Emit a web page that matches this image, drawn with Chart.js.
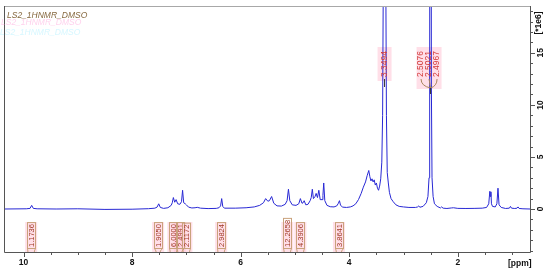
<!DOCTYPE html>
<html>
<head>
<meta charset="utf-8">
<script src="https://cdn.jsdelivr.net/npm/chart.js@4"></script>
<style>
    body { margin: 0; background: #fff; }
    canvas { display: block; }
</style>
</head>
<body>
<canvas id="nmr" width="550" height="273"></canvas>
<script>
// 스펙트럼 데이터: 화학적 이동(ppm)과 세기(*1e6)
const shiftPpm = [
    10.36, 9.95, 9.88, 9.85, 9.82, 9.75, 9.4, 9.0, 8.5, 8.0,
    7.7, 7.58, 7.54, 7.51, 7.48, 7.42, 7.34, 7.28, 7.26, 7.24,
    7.215, 7.19, 7.16, 7.12, 7.09, 7.07, 7.05, 7.02, 7.00, 6.96,
    6.90, 6.84, 6.80, 6.74, 6.6, 6.45, 6.40, 6.37, 6.35, 6.33,
    6.30, 6.1, 5.9, 5.75, 5.65, 5.58, 5.54, 5.50, 5.47, 5.43,
    5.39, 5.33, 5.25, 5.18, 5.145, 5.12, 5.095, 5.05, 4.98, 4.93,
    4.90, 4.87, 4.85, 4.83, 4.80, 4.76, 4.72, 4.70, 4.68, 4.66,
    4.63, 4.61, 4.585, 4.56, 4.535, 4.50, 4.485, 4.47, 4.45, 4.41,
    4.35, 4.28, 4.23, 4.20, 4.18, 4.16, 4.12, 4.05, 3.98, 3.93,
    3.88, 3.83, 3.78, 3.74, 3.70, 3.67, 3.64, 3.62, 3.60, 3.58,
    3.56, 3.54, 3.52, 3.50, 3.48, 3.46, 3.44, 3.42, 3.40, 3.385,
    3.365, 3.355, 3.349, 3.343, 3.333, 3.315, 3.30, 3.28, 3.26, 3.23,
    3.19, 3.14, 3.08, 3.0, 2.9, 2.78, 2.74, 2.72, 2.70, 2.64,
    2.58, 2.55, 2.53, 2.518, 2.508, 2.502, 2.497, 2.487, 2.475, 2.455,
    2.43, 2.38, 2.32, 2.30, 2.27, 2.2, 2.12, 2.08, 2.0, 1.85,
    1.7, 1.55, 1.47, 1.43, 1.41, 1.40, 1.39, 1.38, 1.36, 1.31,
    1.28, 1.26, 1.24, 1.20, 1.12, 1.05, 1.03, 1.01, 0.95, 0.91,
    0.89, 0.87, 0.80, 0.67
];
const intensity = [
    0, 0.02, 0.06, 0.35, 0.06, 0.02, 0, 0.02, -0.04, -0.02,
    0.03, 0.08, 0.18, 0.5, 0.15, 0.06, 0.12, 0.35, 0.6, 1.1,
    0.65, 0.9, 0.5, 0.45, 0.7, 1.8, 0.6, 0.5, 0.4, 0.18,
    0.1, 0.12, 0.16, 0.08, 0.04, 0.06, 0.12, 0.3, 1.0, 0.25,
    0.08, 0.08, 0.12, 0.2, 0.35, 0.6, 1.0, 0.75, 0.8, 1.2,
    0.55, 0.3, 0.28, 0.45, 0.8, 1.9, 0.8, 0.4, 0.35, 0.5,
    1.0, 0.55, 0.6, 0.8, 0.4, 0.45, 0.8, 1.1, 1.9, 1.0,
    1.2, 1.5, 1.1, 1.8, 0.9, 0.9, 1.3, 2.5, 0.8, 0.35,
    0.22, 0.2, 0.3, 0.55, 0.8, 0.35, 0.18, 0.15, 0.2, 0.3,
    0.5, 0.9, 1.5, 2.1, 2.6, 3.2, 3.7, 3.1, 2.7, 2.9,
    2.6, 2.8, 2.3, 2.5, 2.0, 1.8, 2.2, 2.9, 4.5, 9,
    30, 70, 75, 70, 30, 9, 3.5, 2.5, 1.6, 1.0,
    0.7, 0.4, 0.25, 0.2, 0.15, 0.15, 0.2, 0.3, 0.17, 0.25,
    0.6, 1.2, 3, 12, 90, 80, 90, 12, 3, 1.2,
    0.5, 0.25, 0.1, 0.2, 0.08, 0.05, 0.1, 0.12, 0.06, 0.05,
    0.06, 0.08, 0.15, 0.5, 1.7, 1.2, 1.65, 0.5, 0.25, 0.2,
    0.5, 2.0, 0.4, 0.15, 0.05, 0.08, 0.25, 0.08, 0.05, 0.08,
    0.2, 0.05, 0.02, 0
];

// 축 눈금
const xTickLabels = [10, 8, 6, 4, 2];
const yTickLabels = [0, 5, 10, 15];

// 적분값과 적분 구간(ppm)
const integralValues = ['1.1736', '1.9050', '6.0000', '2.4991', '2.1172', '2.9824', '12.2658', '4.3906', '3.8641'];
const integralFrom = [9.92, 7.56, 7.30, 7.16, 7.06, 6.42, 5.20, 4.96, 4.24];
const integralTo = [9.80, 7.48, 7.18, 7.08, 6.94, 6.30, 5.08, 4.84, 4.14];

// 피크 라벨
const peakGroupA = ['3.3494'];
const peakGroupB = ['2.5076', '2.5021', '2.4967'];

const TITLE = 'LS2_1HNMR_DMSO';

function drawRotated(ctx, text, x, y, align) {
    ctx.save();
    ctx.translate(x, y);
    ctx.rotate(-Math.PI / 2);
    ctx.textAlign = align;
    ctx.textBaseline = 'middle';
    ctx.fillText(text, 0, 0);
    ctx.restore();
}

const PINK = 'rgba(255, 196, 214, 0.55)';

const nmrDecor = {
    id: 'nmrDecor',
    beforeDatasetsDraw(chart) {
        const ctx = chart.ctx;
        const xs = chart.scales.x;
        const area = chart.chartArea;
        ctx.save();
        ctx.fillStyle = PINK;
        // 적분 라벨 배경
        integralValues.forEach((v, i) => {
            const a = xs.getPixelForValue(integralFrom[i]);
            const b = xs.getPixelForValue(integralTo[i]);
            const mid = (a + b) / 2;
            const left = Math.min(a, mid - 6);
            const right = Math.max(b, mid + 6);
            ctx.fillRect(left, 222, right - left, area.bottom - 222);
        });
        // 피크 라벨 배경
        const pa = xs.getPixelForValue(parseFloat(peakGroupA[0]));
        ctx.fillRect(pa - 7, 47, 14, 34);
        const pb = xs.getPixelForValue(parseFloat(peakGroupB[1]));
        ctx.fillRect(pb - 14, 47, 25, 42);
        ctx.restore();
    },
    afterDraw(chart) {
        const ctx = chart.ctx;
        const xs = chart.scales.x;
        const ys = chart.scales.y;
        const area = chart.chartArea;
        ctx.save();

        // 테두리
        ctx.lineWidth = 1;
        ctx.strokeStyle = '#a8a8a8';
        ctx.beginPath();
        ctx.moveTo(area.left, area.top + 0.5);
        ctx.lineTo(area.right, area.top + 0.5);
        ctx.stroke();
        ctx.strokeStyle = '#555';
        ctx.beginPath();
        ctx.moveTo(area.left + 0.5, area.top);
        ctx.lineTo(area.left + 0.5, area.bottom + 0.5);
        ctx.lineTo(area.right + 0.5, area.bottom + 0.5);
        ctx.lineTo(area.right + 0.5, area.top);
        ctx.stroke();

        // x축 눈금
        ctx.beginPath();
        for (let t = 10; t >= 1; t -= 0.5) {
            const px = Math.round(xs.getPixelForValue(t)) + 0.5;
            const len = (t % 2 === 0) ? 5 : 3;
            ctx.moveTo(px, area.bottom);
            ctx.lineTo(px, area.bottom + len);
        }
        // y축 눈금
        for (let t = -4; t <= 19; t++) {
            const py = Math.round(ys.getPixelForValue(t)) + 0.5;
            const len = (t % 5 === 0) ? 5 : 3;
            ctx.moveTo(area.right, py);
            ctx.lineTo(area.right + len, py);
        }
        ctx.stroke();

        // 축 라벨
        ctx.fillStyle = '#111';
        ctx.font = 'bold 8.5px "Liberation Sans", Arial, sans-serif';
        ctx.textAlign = 'center';
        ctx.textBaseline = 'middle';
        xTickLabels.forEach(v => {
            ctx.fillText(String(v), xs.getPixelForValue(v), 263);
        });
        ctx.textAlign = 'left';
        ctx.fillText('[ppm]', 508, 264);
        yTickLabels.forEach(v => {
            drawRotated(ctx, String(v), area.right + 11, ys.getPixelForValue(v), 'center');
        });
        drawRotated(ctx, '[*1e6]', area.right + 9, 23, 'center');

        // 제목
        ctx.font = 'italic 8.5px "Liberation Sans", Arial, sans-serif';
        ctx.textAlign = 'left';
        ctx.fillStyle = 'rgba(255, 120, 200, 0.35)';
        ctx.fillText(TITLE, 1, 23);
        ctx.fillStyle = 'rgba(120, 230, 255, 0.3)';
        ctx.fillText(TITLE, 0, 33);
        ctx.fillStyle = '#86683f';
        ctx.fillText(TITLE, 7, 15.5);

        // 적분 라벨
        ctx.font = '7.5px "Liberation Sans", Arial, sans-serif';
        integralValues.forEach((v, i) => {
            const a = xs.getPixelForValue(integralFrom[i]);
            const b = xs.getPixelForValue(integralTo[i]);
            const mid = Math.round((a + b) / 2) + 0.5;
            const w = ctx.measureText(v).width;
            const bottom = 247;
            ctx.strokeStyle = '#c9a27c';
            ctx.strokeRect(mid - 4, bottom - w - 1.5, 8, w + 3);
            ctx.beginPath();
            ctx.moveTo(mid - 4, bottom + 1.5);
            ctx.lineTo(a, area.bottom - 1);
            ctx.lineTo(a, area.bottom);
            ctx.moveTo(mid + 4, bottom + 1.5);
            ctx.lineTo(b, area.bottom - 1);
            ctx.lineTo(b, area.bottom);
            ctx.stroke();
            ctx.fillStyle = '#a13a26';
            drawRotated(ctx, v, mid + 0.5, bottom, 'left');
        });

        // 피크 라벨
        ctx.font = '8.5px "Liberation Sans", Arial, sans-serif';
        ctx.fillStyle = '#d23a3a';
        const pa = xs.getPixelForValue(parseFloat(peakGroupA[0]));
        drawRotated(ctx, peakGroupA[0], pa, 77, 'left');
        ctx.strokeStyle = '#333';
        ctx.beginPath();
        ctx.moveTo(pa, 79);
        ctx.lineTo(pa, 87);
        ctx.stroke();

        const pb = xs.getPixelForValue(parseFloat(peakGroupB[1]));
        const bx = peakGroupB.map((v, i) => pb - 1.5 + (i - 1) * 8);
        ctx.fillStyle = '#d23a3a';
        peakGroupB.forEach((v, i) => drawRotated(ctx, v, bx[i], 77, 'left'));
        ctx.strokeStyle = '#a8845c';
        ctx.beginPath();
        ctx.moveTo(bx[0], 79);
        ctx.quadraticCurveTo(bx[0], 86, pb, 88);
        ctx.moveTo(bx[2], 79);
        ctx.quadraticCurveTo(bx[2], 86, pb, 88);
        ctx.moveTo(bx[1], 79);
        ctx.lineTo(pb, 88);
        ctx.stroke();
        ctx.strokeStyle = '#333';
        ctx.beginPath();
        ctx.moveTo(pb, 88);
        ctx.lineTo(pb, 94);
        ctx.stroke();

        ctx.restore();
    }
};

new Chart(document.getElementById('nmr'), {
    type: 'line',
    data: {
        datasets: [{
            data: shiftPpm.map((p, i) => ({ x: p, y: intensity[i] })),
            borderColor: '#2828d4',
            borderWidth: 1,
            pointRadius: 0,
            tension: 0,
            fill: false
        }]
    },
    options: {
        responsive: false,
        animation: false,
        devicePixelRatio: 1,
        layout: { padding: { left: 4, right: 20, top: 6, bottom: 21 } },
        plugins: { legend: { display: false }, tooltip: { enabled: false } },
        scales: {
            x: { type: 'linear', reverse: true, min: 0.67, max: 10.36, display: false },
            y: { min: -4.13, max: 19.5, display: false }
        }
    },
    plugins: [nmrDecor]
});
</script>
</body>
</html>
